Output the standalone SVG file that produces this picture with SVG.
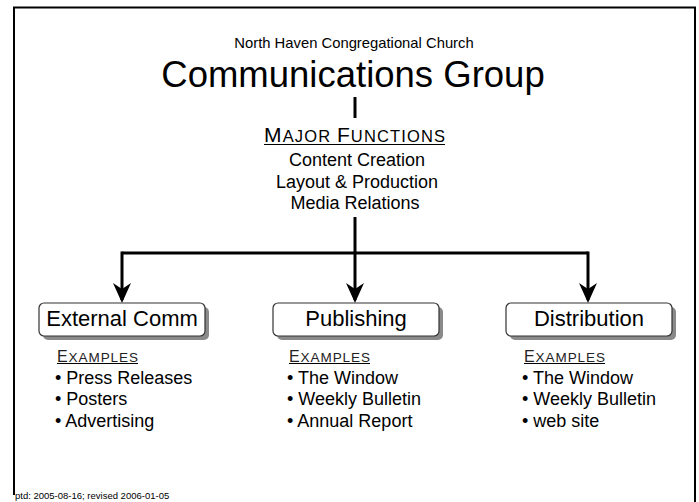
<svg xmlns="http://www.w3.org/2000/svg" width="699" height="502" viewBox="0 0 699 502">
<style>
text{font-family:"Liberation Sans",Arial,sans-serif;fill:#000}
.frame{fill:none;stroke:#000;stroke-width:2}
.conn{fill:none;stroke:#000;stroke-width:3}
.shadow{fill:#8a8a8a}
.box{fill:#fff;stroke:#333;stroke-width:1.2}
.boxlabel{font-size:22px;text-anchor:middle}
.func{font-size:18px;text-anchor:middle}
.item{font-size:18px}
.ul{stroke:#000;stroke-width:1}
.ex{fill:#222}
</style>
<defs>
<marker id="arr" viewBox="0 0 20 18" refX="17" refY="9" markerWidth="20" markerHeight="18" markerUnits="userSpaceOnUse" orient="auto">
<path d="M0,0 L20,9 L0,18 L6,9 Z" fill="#000"/>
</marker>
</defs>
<rect x="0" y="0" width="699" height="502" fill="#fff"/>
<path class="frame" d="M14,495 V7.5 H695 V502"/>
<g id="title">
<text x="354" y="48" font-size="14.8" text-anchor="middle">North Haven Congregational Church</text>
<text x="353" y="87" font-size="36.5" text-anchor="middle">Communications Group</text>
</g>
<g id="functions">
<text x="264" y="142" textLength="181" lengthAdjust="spacing"><tspan font-size="21">M</tspan><tspan font-size="16.5">AJOR </tspan><tspan font-size="21">F</tspan><tspan font-size="16.5">UNCTIONS</tspan></text>
<line class="ul" x1="264" y1="144.5" x2="445" y2="144.5"/>
<text class="func" x="357" y="166">Content Creation</text>
<text class="func" x="357" y="187.5">Layout &amp; Production</text>
<text class="func" x="355" y="209">Media Relations</text>
</g>
<g id="connectors">
<line class="conn" x1="355" y1="97" x2="355" y2="118"/>
<path class="conn" d="M355,217 V300" marker-end="url(#arr)"/>
<path class="conn" d="M122,253 H588"/>
<path class="conn" d="M122,251.5 V300" marker-end="url(#arr)"/>
<path class="conn" d="M588,251.5 V300" marker-end="url(#arr)"/>
</g>
<g id="external-comm">
<rect class="shadow" x="43" y="307" width="166" height="33" rx="5"/>
<rect class="box" x="39" y="303" width="166" height="33" rx="5"/>
<text class="boxlabel" x="122" y="326">External Comm</text>
<text class="ex" x="57" y="361.5" textLength="81" lengthAdjust="spacing"><tspan font-size="16">E</tspan><tspan font-size="13.5">XAMPLES</tspan></text>
<line class="ul" x1="57" y1="363.5" x2="138" y2="363.5"/>
<text class="item" x="55" y="384">• Press Releases</text>
<text class="item" x="55" y="405">• Posters</text>
<text class="item" x="55" y="426.5">• Advertising</text>
</g>
<g id="publishing">
<rect class="shadow" x="277" y="307" width="166" height="33" rx="5"/>
<rect class="box" x="273" y="303" width="166" height="33" rx="5"/>
<text class="boxlabel" x="356" y="326">Publishing</text>
<text class="ex" x="289" y="361.5" textLength="81" lengthAdjust="spacing"><tspan font-size="16">E</tspan><tspan font-size="13.5">XAMPLES</tspan></text>
<line class="ul" x1="289" y1="363.5" x2="370" y2="363.5"/>
<text class="item" x="287" y="384">• The Window</text>
<text class="item" x="287" y="405">• Weekly Bulletin</text>
<text class="item" x="287" y="426.5">• Annual Report</text>
</g>
<g id="distribution">
<rect class="shadow" x="510" y="307" width="166" height="33" rx="5"/>
<rect class="box" x="506" y="303" width="166" height="33" rx="5"/>
<text class="boxlabel" x="589" y="326">Distribution</text>
<text class="ex" x="524" y="361.5" textLength="81" lengthAdjust="spacing"><tspan font-size="16">E</tspan><tspan font-size="13.5">XAMPLES</tspan></text>
<line class="ul" x1="524" y1="363.5" x2="605" y2="363.5"/>
<text class="item" x="522" y="384">• The Window</text>
<text class="item" x="522" y="405">• Weekly Bulletin</text>
<text class="item" x="522" y="426.5">• web site</text>
</g>
<text x="15" y="499" font-size="9.5">ptd: 2005-08-16; revised 2006-01-05</text>
</svg>
